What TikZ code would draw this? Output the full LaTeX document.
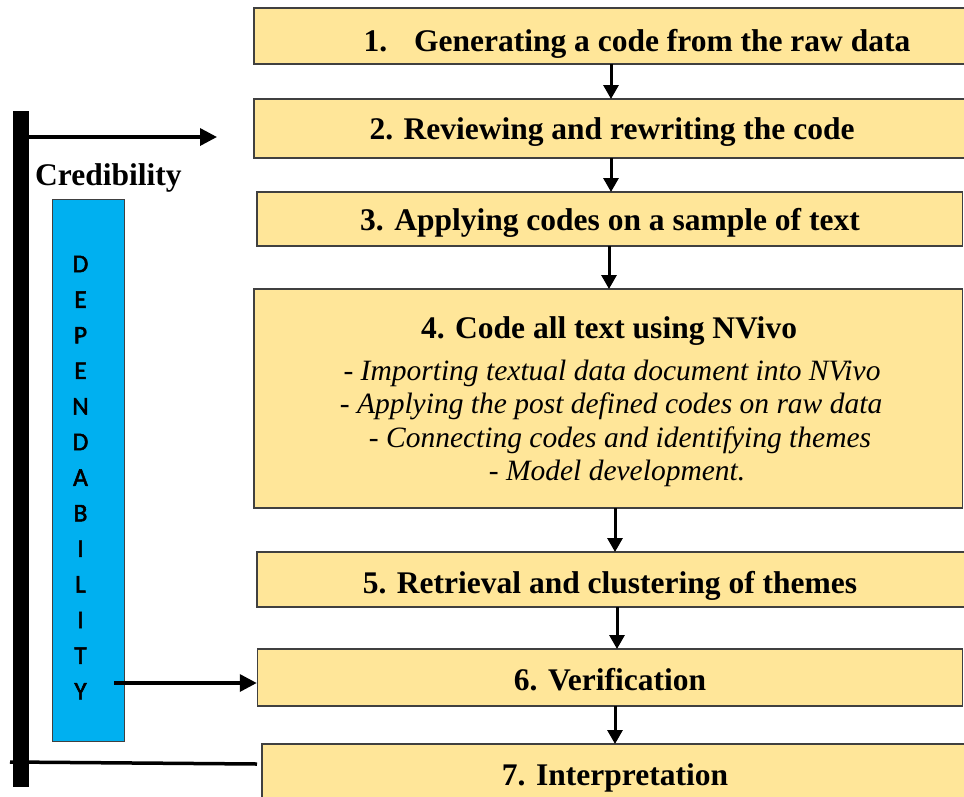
\documentclass[tikz,border=0pt]{standalone}
\usepackage{fontspec}
\setmainfont{Liberation Serif}
\newfontface\lettersfont[FakeBold=2]{Carlito}
\usetikzlibrary{arrows.meta}

\definecolor{stepfill}{HTML}{FFE699}
\definecolor{stepline}{HTML}{404040}
\definecolor{depblue}{HTML}{00B0F0}

\tikzset{
  stepbox/.style={draw=stepline, line width=1.5pt, fill=stepfill, rectangle, inner sep=0pt},
  title/.style={font=\fontsize{31.5}{36}\selectfont\bfseries, inner sep=0pt, anchor=base},
  flow/.style={draw=black, line width=3pt,
    -{Triangle[length=14pt, width=15pt]}},
  sidearrow/.style={draw=black, line width=3.5pt,
    -{Triangle[length=17pt, width=17pt]}},
  letter/.style={font=\lettersfont\fontsize{25.5}{26}\selectfont, inner sep=0pt},
  detail/.style={font=\fontsize{29.5}{33.5}\selectfont\itshape, inner sep=0pt, anchor=base}
}

\begin{document}
\begin{tikzpicture}[x=1pt, y=-1pt]
  \useasboundingbox (0,0) rectangle (964,796);
  \clip (0,0) rectangle (964,796);
  \fill[white] (0,0) rectangle (964,796);

  % process steps
  \node[stepbox, minimum width=720pt, minimum height=56pt] (s1) at (614,36) {};
  \node[stepbox, minimum width=720pt, minimum height=59pt] (s2) at (614,128.5) {};
  \node[stepbox, minimum width=705.5pt, minimum height=54pt] (s3) at (609.75,219) {};
  \node[stepbox, minimum width=708.5pt, minimum height=219pt] (s4) at (608.25,398.5) {};
  \node[stepbox, minimum width=720pt, minimum height=55pt] (s5) at (617,579.5) {};
  \node[stepbox, minimum width=705pt, minimum height=57pt] (s6) at (610,677.5) {};
  \node[stepbox, minimum width=720pt, minimum height=66pt] (s7) at (622,777) {};

  % step labels
  \node[title] (t1) at (637,51) {1.\hspace{0.85em}Generating a code from the raw data};
  \node[title] (t2) at (612,139) {2. Reviewing and rewriting the code};
  \node[title] (t3) at (610,230) {3. Applying codes on a sample of text};
  \node[title] (t4) at (609,338) {4. Code all text using NVivo};
  \node[detail] (d1) at (612,380) {- Importing textual data document into NVivo};
  \node[detail] (d2) at (611,413.5) {- Applying the post defined codes on raw data};
  \node[detail] (d3) at (620,447) {- Connecting codes and identifying themes};
  \node[detail] (d4) at (617,480.5) {- Model development.};
  \node[title] (t5) at (610,593) {5. Retrieval and clustering of themes};
  \node[title] (t6) at (610,690.5) {6. Verification};
  \node[title] (t7) at (615,785) {7. Interpretation};

  % arrows between steps
  \draw[flow] (611,64) -- (611,99);
  \draw[flow] (611,158) -- (611,192);
  \draw[flow] (609,246) -- (609,289);
  \draw[flow] (615,508) -- (615,552);
  \draw[flow] (617,607) -- (617,649);
  \draw[flow] (615,706) -- (615,744);

  % credibility bar
  \fill[black] (12.7,111) rectangle (29.3,787);
  \coordinate (barTop) at (29.3,137);
  \coordinate (credTip) at (217,137);
  \draw[sidearrow] (barTop) -- (credTip);
  \coordinate (barFoot) at (10,762);
  \coordinate (lineEnd) at (257,764);
  \draw[line width=3.5pt] (barFoot) -- (lineEnd);
  \node[font=\fontsize{31.5}{36}\selectfont\bfseries, inner sep=0pt, anchor=base west]
    (cred) at (35,185) {Credibility};

  % dependability column
  \node[draw=stepline, line width=0.8pt, fill=depblue, rectangle, inner sep=0pt,
    minimum width=71.6pt, minimum height=542pt] (dep) at (88.5,470) {};
  \foreach \ch [count=\i from 0] in {D,E,P,E,N,D,A,B,I,L,I,T,Y} {
    \node[letter] (l\i) at (80.5, 264+35.6*\i) {\ch};
  }
  \coordinate (yStart) at (114,683);
  \draw[sidearrow] (yStart) -- (s6.west |- yStart);
\end{tikzpicture}
\end{document}
